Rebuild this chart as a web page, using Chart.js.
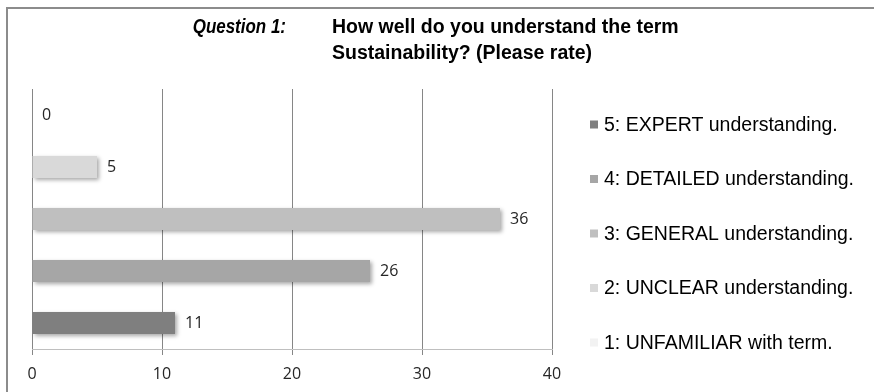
<!DOCTYPE html>
<html>
<head>
<meta charset="utf-8">
<script src="https://cdn.jsdelivr.net/npm/chart.js@4.4.1/dist/chart.umd.min.js"></script>
<style>
    html, body { margin: 0; padding: 0; background: #fff; }
</style>
</head>
<body>
<canvas id="q1Chart" width="874" height="392"></canvas>
<script>
const categories = [
    '1: UNFAMILIAR with term.',
    '2: UNCLEAR understanding.',
    '3: GENERAL understanding.',
    '4: DETAILED understanding.',
    '5: EXPERT understanding.'
];
const responses = [0, 5, 36, 26, 11];
const barColors = ['#f2f2f2', '#d9d9d9', '#bfbfbf', '#a6a6a6', '#7f7f7f'];
const axisMax = 40;
const axisStep = 10;

const titleLead = 'Question 1:';
const titleLines = ['How well do you understand the term', 'Sustainability? (Please rate)'];

const sansFont = '"Liberation Sans", Arial, sans-serif';
const labelFont = '"Open Sans", sans-serif';

// grey frame round the whole chart, like the office export
const framePlugin = {
    id: 'frame',
    beforeDraw(chart) {
        const ctx = chart.ctx;
        ctx.save();
        ctx.fillStyle = '#fff';
        ctx.fillRect(0, 0, chart.width, chart.height);
        ctx.strokeStyle = '#8c8c8c';
        ctx.lineWidth = 2;
        ctx.strokeRect(7, 8, chart.width + 20, chart.height + 20);
        ctx.restore();
    }
};

const titlePlugin = {
    id: 'twoPartTitle',
    afterDraw(chart) {
        const ctx = chart.ctx;
        ctx.save();
        ctx.fillStyle = '#000';
        ctx.textBaseline = 'alphabetic';
        // the lead-in is a narrower italic in the original
        ctx.save();
        ctx.translate(286, 33);
        ctx.scale(0.87, 1);
        ctx.font = 'italic bold 19.5px ' + sansFont;
        ctx.textAlign = 'right';
        ctx.fillText(titleLead, 0, 0);
        ctx.restore();
        ctx.font = 'bold 19.5px ' + sansFont;
        ctx.textAlign = 'left';
        titleLines.forEach((line, i) => ctx.fillText(line, 332, 33 + i * 26));
        ctx.restore();
    }
};

// value labels just past the end of each bar
const valueLabelPlugin = {
    id: 'valueLabels',
    afterDatasetsDraw(chart) {
        const ctx = chart.ctx;
        const meta = chart.getDatasetMeta(0);
        ctx.save();
        ctx.shadowColor = 'transparent';
        ctx.fillStyle = '#262626';
        ctx.font = '16px ' + labelFont;
        ctx.textAlign = 'left';
        ctx.textBaseline = 'middle';
        meta.data.forEach((bar, i) => {
            ctx.fillText(String(responses[i]), bar.x + 10, bar.y);
        });
        ctx.restore();
    }
};

// soft drop shadow under the bars
const barShadowPlugin = {
    id: 'barShadow',
    beforeDatasetsDraw(chart) {
        const ctx = chart.ctx;
        ctx.save();
        ctx.shadowColor = 'rgba(0, 0, 0, 0.35)';
        ctx.shadowBlur = 4;
        ctx.shadowOffsetX = 2;
        ctx.shadowOffsetY = 2;
    },
    afterDatasetsDraw(chart) {
        chart.ctx.restore();
    }
};

// legend on the right, highest rating on top
const sideLegendPlugin = {
    id: 'sideLegend',
    afterDraw(chart) {
        const ctx = chart.ctx;
        ctx.save();
        ctx.font = '19.5px ' + sansFont;
        ctx.textAlign = 'left';
        ctx.textBaseline = 'alphabetic';
        const order = categories.map((c, i) => i).reverse();
        order.forEach((idx, row) => {
            const base = 130.5 + row * 54.5;
            ctx.fillStyle = barColors[idx];
            ctx.fillRect(590, base - 10, 8, 8);
            ctx.fillStyle = '#000';
            ctx.fillText(categories[idx], 604, base);
        });
        ctx.restore();
    }
};

const q1Ctx = document.getElementById('q1Chart').getContext('2d');
new Chart(q1Ctx, {
    type: 'bar',
    data: {
        labels: categories,
        datasets: [{
            label: 'Responses',
            data: responses,
            backgroundColor: barColors,
            borderWidth: 0,
            categoryPercentage: 0.5,
            barPercentage: 0.85,
        }]
    },
    options: {
        responsive: false,
        animation: false,
        indexAxis: 'y',
        layout: {
            padding: { left: 32, right: 322, top: 89, bottom: 0 }
        },
        scales: {
            x: {
                min: 0,
                max: axisMax,
                ticks: {
                    stepSize: axisStep,
                    color: '#262626',
                    padding: 10,
                    font: { family: labelFont, size: 16 }
                },
                grid: { color: '#868686', tickLength: 6 },
                border: { color: '#bfbfbf' },
                afterFit(scale) { scale.height = 43; }
            },
            y: {
                ticks: { display: false },
                grid: { display: false },
                border: { display: false },
                afterFit(scale) { scale.width = 0; }
            }
        },
        plugins: {
            legend: { display: false },
            tooltip: { enabled: false },
            title: { display: false }
        }
    },
    plugins: [framePlugin, barShadowPlugin, valueLabelPlugin, titlePlugin, sideLegendPlugin]
});
</script>
</body>
</html>
